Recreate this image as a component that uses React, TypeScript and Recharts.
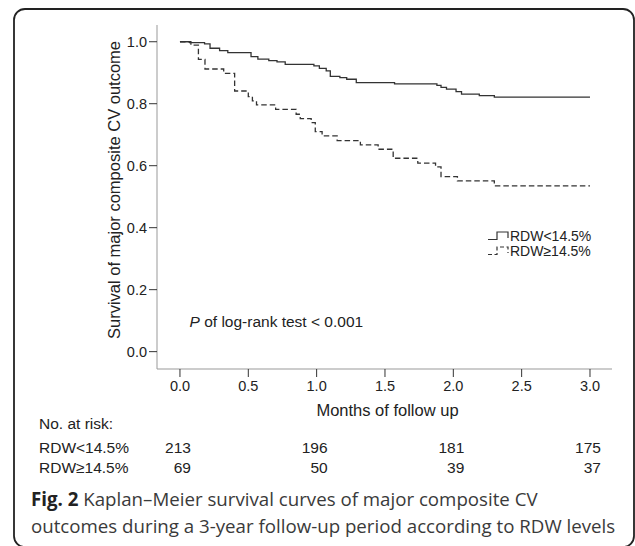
import React from 'react';
import { LineChart, Line, XAxis, YAxis, Legend } from 'recharts';

// Kaplan–Meier step points (time in years, survival probability)
const lowTimes = [0, 0.07, 0.18, 0.22, 0.29, 0.35, 0.52, 0.57, 0.65, 0.71, 0.77, 0.98, 1.02, 1.07, 1.1, 1.17, 1.22, 1.29, 1.57, 1.88, 1.91, 1.95, 2.02, 2.06, 2.19, 2.3, 3.0];
const lowSurv = [1.0, 0.997, 0.993, 0.979, 0.971, 0.965, 0.952, 0.944, 0.939, 0.935, 0.927, 0.922, 0.914, 0.906, 0.888, 0.884, 0.879, 0.868, 0.864, 0.859, 0.853, 0.847, 0.839, 0.831, 0.826, 0.821, 0.821];

const highTimes = [0, 0.08, 0.135, 0.183, 0.32, 0.4, 0.5, 0.53, 0.56, 0.7, 0.85, 0.88, 0.96, 0.99, 1.04, 1.15, 1.32, 1.45, 1.56, 1.74, 1.87, 1.91, 2.03, 2.3, 3.0];
const highSurv = [1.0, 0.989, 0.943, 0.912, 0.898, 0.841, 0.823, 0.809, 0.796, 0.782, 0.766, 0.752, 0.739, 0.71, 0.696, 0.681, 0.667, 0.653, 0.624, 0.608, 0.596, 0.565, 0.551, 0.535, 0.535];

const xTicks = [0, 0.5, 1, 1.5, 2, 2.5, 3];
const yTicks = [0, 0.2, 0.4, 0.6, 0.8, 1.0];

const riskTimes = [0, 1, 2, 3];
const riskLow = [213, 196, 181, 175];
const riskHigh = [69, 50, 39, 37];

const groupLow = 'RDW<14.5%';
const groupHigh = 'RDW≥14.5%';

const lowData = lowTimes.map((t, i) => ({ t, s: lowSurv[i] }));
const highData = highTimes.map((t, i) => ({ t, s: highSurv[i] }));

const X_DOMAIN: [number, number] = [-0.168, 3.161];
const Y_DOMAIN: [number, number] = [-0.056, 1.054];

const FONT = '"Liberation Sans", Arial, sans-serif';
const CAPTION_FONT = '"Open Sans", "Noto Sans", sans-serif';

const LegendBox = () => (
  <div style={{ fontFamily: FONT, fontSize: 14, color: '#222', lineHeight: '15px' }}>
    <div style={{ display: 'flex', alignItems: 'center', height: 15 }}>
      <svg width={23} height={15} style={{ display: 'block' }}>
        <path d="M1,10.5 H10 V3 H21 V9" fill="none" stroke="#333" strokeWidth={1.2} />
      </svg>
      <span>{groupLow}</span>
    </div>
    <div style={{ display: 'flex', alignItems: 'center', height: 15 }}>
      <svg width={23} height={15} style={{ display: 'block' }}>
        <path d="M1,10.5 H10 V3 H21 V9" fill="none" stroke="#333" strokeWidth={1.2} strokeDasharray="4 2.5" />
      </svg>
      <span>{groupHigh}</span>
    </div>
  </div>
);

export default function App() {
  return (
    <div style={{ position: 'absolute', left: 0, top: 0, width: 635, height: 546, background: '#fff', fontFamily: FONT, overflow: 'hidden' }}>
      <LineChart width={635} height={546} margin={{ top: 25, right: 23, bottom: 73, left: 0 }}>
        <XAxis
          dataKey="t"
          type="number"
          domain={X_DOMAIN}
          ticks={xTicks}
          allowDataOverflow
          tickFormatter={(v: number) => v.toFixed(1)}
          stroke="#999"
          tickLine={{ stroke: '#333' }}
          tickSize={8}
          tickMargin={4}
          height={47}
          tick={{ fill: '#222', fontSize: 14.5, fontFamily: FONT }}
          label={{
            content: (props: any) => {
              const vb = props.viewBox || {};
              const cx = vb.x + vb.width / 2 + 3;
              const cy = vb.y + vb.height;
              return (
                <text x={cx} y={cy} textAnchor="middle" fontSize={16.5} fill="#222" fontFamily={FONT}>
                  Months of follow up
                </text>
              );
            },
          }}
        />
        <XAxis
          xAxisId="r1"
          dataKey="t"
          type="number"
          domain={X_DOMAIN}
          ticks={riskTimes}
          allowDataOverflow
          axisLine={false}
          tickLine={false}
          tickSize={0}
          tickMargin={26}
          height={37}
          tickFormatter={(v: number) => String(riskLow[riskTimes.indexOf(v)])}
          tick={{ fill: '#222', fontSize: 15.5, fontFamily: FONT, textAnchor: 'end', dx: 11 }}
        />
        <XAxis
          xAxisId="r2"
          dataKey="t"
          type="number"
          domain={X_DOMAIN}
          ticks={riskTimes}
          allowDataOverflow
          axisLine={false}
          tickLine={false}
          tickSize={0}
          tickMargin={9}
          height={20}
          tickFormatter={(v: number) => String(riskHigh[riskTimes.indexOf(v)])}
          tick={{ fill: '#222', fontSize: 15.5, fontFamily: FONT, textAnchor: 'end', dx: 11 }}
        />
        <YAxis
          type="number"
          domain={Y_DOMAIN}
          ticks={yTicks}
          allowDataOverflow
          width={157}
          tickFormatter={(v: number) => v.toFixed(1)}
          stroke="#999"
          tickLine={{ stroke: '#333' }}
          tickSize={8}
          tickMargin={2}
          tick={{ fill: '#222', fontSize: 14.5, fontFamily: FONT }}
          label={{
            content: (props: any) => {
              const vb = props.viewBox || {};
              const cx = vb.x + 114;
              const cy = vb.y + vb.height / 2 - 7;
              return (
                <text
                  x={cx}
                  y={cy}
                  transform={`rotate(-90 ${cx} ${cy})`}
                  textAnchor="middle"
                  dominantBaseline="central"
                  fontSize={16.5}
                  fill="#222"
                  fontFamily={FONT}
                >
                  Survival of major composite CV outcome
                </text>
              );
            },
          }}
        />
        <Legend
          layout="horizontal"
          align="center"
          verticalAlign="middle"
          wrapperStyle={{ left: 487, top: 229, width: 130 }}
          content={() => <LegendBox />}
        />
        <Line
          data={lowData}
          dataKey="s"
          name={groupLow}
          type="stepAfter"
          dot={false}
          activeDot={false}
          stroke="#333"
          strokeWidth={1.3}
          isAnimationActive={false}
        />
        <Line
          data={highData}
          dataKey="s"
          name={groupHigh}
          type="stepAfter"
          dot={false}
          activeDot={false}
          stroke="#333"
          strokeWidth={1.3}
          strokeDasharray="5.5 3"
          isAnimationActive={false}
        />
      </LineChart>
      <svg width={635} height={546} style={{ position: 'absolute', left: 0, top: 0, pointerEvents: 'none' }}>
        <rect x={14} y={9} width={620} height={538} rx={11} ry={11} fill="none" stroke="#222" strokeWidth={1.8} />
        <text x={189.5} y={327.3} fontSize={15.5} fill="#222" fontFamily={FONT}>
          <tspan fontStyle="italic">P</tspan> of log-rank test &lt; 0.001
        </text>
        <text x={39} y={429.3} fontSize={15.5} fill="#222" fontFamily={FONT}>No. at risk:</text>
        <text x={39} y={453.3} fontSize={15.5} fill="#222" fontFamily={FONT}>{groupLow}</text>
        <text x={39} y={473.3} fontSize={15.5} fill="#222" fontFamily={FONT}>{groupHigh}</text>
        <text x={31} y={506} fontSize={18.7} fill="#3a3a3a" fontFamily={CAPTION_FONT}>
          <tspan fontWeight={700} fill="#222">Fig. 2</tspan> Kaplan–Meier survival curves of major composite CV
        </text>
        <text x={31} y={533} fontSize={18.7} fill="#3a3a3a" fontFamily={CAPTION_FONT}>
          outcomes during a 3-year follow-up period according to RDW levels
        </text>
      </svg>
    </div>
  );
}
